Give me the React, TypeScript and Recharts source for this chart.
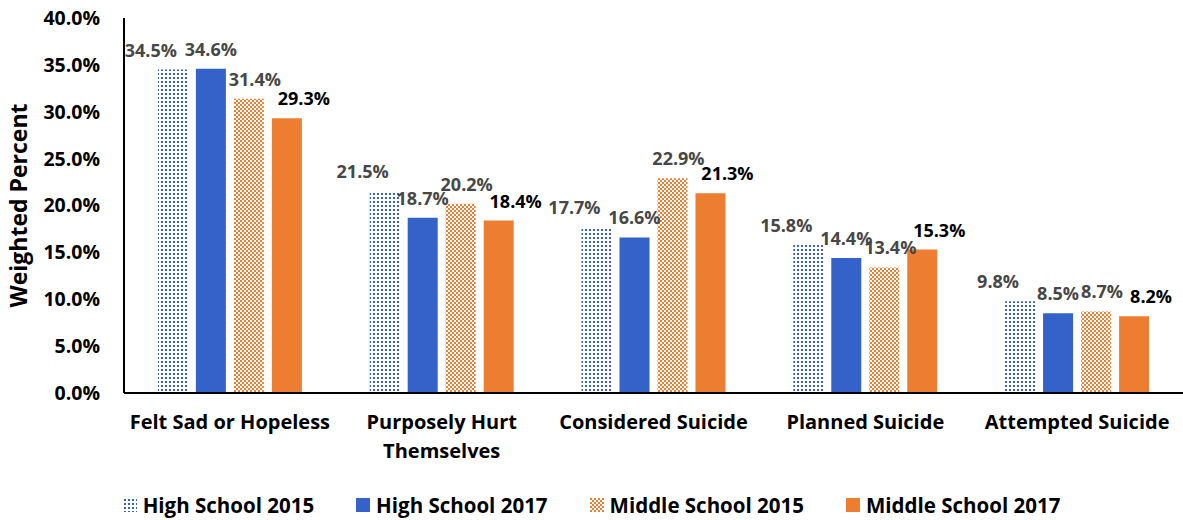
import React from "react";
import { BarChart, Bar, XAxis, YAxis, LabelList } from "recharts";

const categories = [
  "Felt Sad or Hopeless",
  "Purposely Hurt Themselves",
  "Considered Suicide",
  "Planned Suicide",
  "Attempted Suicide",
];
const highSchool2015 = [34.5, 21.5, 17.7, 15.8, 9.8];
const highSchool2017 = [34.6, 18.7, 16.6, 14.4, 8.5];
const middleSchool2015 = [31.4, 20.2, 22.9, 13.4, 8.7];
const middleSchool2017 = [29.3, 18.4, 21.3, 15.3, 8.2];
const yTicks = [0, 5, 10, 15, 20, 25, 30, 35, 40];

const BLUE = "#3462C8";
const ORANGE = "#ED7D31";
const FONT = "'Open Sans', Lato, sans-serif";

const data = categories.map((c, i) => ({
  category: c,
  hs2015: highSchool2015[i],
  hs2017: highSchool2017[i],
  ms2015: middleSchool2015[i],
  ms2017: middleSchool2017[i],
}));

const series = [
  { key: "hs2015", name: "High School 2015", fill: "url(#dotsBlue)", icon: "dots", labelColor: "#474747", dx: -22 },
  { key: "hs2017", name: "High School 2017", fill: BLUE, icon: "solidBlue", labelColor: "#474747", dx: 0 },
  { key: "ms2015", name: "Middle School 2015", fill: "url(#checkOrange)", icon: "check", labelColor: "#474747", dx: 6 },
  { key: "ms2017", name: "Middle School 2017", fill: ORANGE, icon: "solidOrange", labelColor: "#000000", dx: 17 },
];

function wrapLabel(text: string, maxChars: number): string[] {
  const words = text.split(" ");
  const lines: string[] = [];
  let cur = "";
  for (const w of words) {
    const next = cur ? cur + " " + w : w;
    if (next.length > maxChars && cur) {
      lines.push(cur);
      cur = w;
    } else {
      cur = next;
    }
  }
  if (cur) lines.push(cur);
  return lines;
}

const CategoryTick = (props: any) => {
  const { x, y, payload } = props;
  const lines = wrapLabel(String(payload.value), 20);
  return (
    <text x={x} y={y} textAnchor="middle" fontFamily={FONT} fontWeight={700} fontSize={20} fill="#000">
      {lines.map((l, i) => (
        <tspan key={i} x={x} dy={i === 0 ? 28 : 29}>
          {l}
        </tspan>
      ))}
    </text>
  );
};

const makeLabel = (color: string, dx: number) => (props: any) => {
  const { x, y, width, value } = props;
  return (
    <text
      x={Number(x) + Number(width) / 2 + dx}
      y={Number(y) - 13}
      textAnchor="middle"
      fontFamily={FONT}
      fontWeight={700}
      fontSize={18}
      fill={color}
    >
      {Number(value).toFixed(1) + "%"}
    </text>
  );
};

const PatternDefs = () => (
  <defs>
    <pattern id="dotsBlue" patternUnits="userSpaceOnUse" width="4" height="4">
      <rect x="0" y="0" width="4" height="4" fill="#ffffff" />
      <rect x="1" y="1" width="2" height="2" fill={BLUE} />
    </pattern>
    <pattern id="checkOrange" patternUnits="userSpaceOnUse" width="4" height="4">
      <rect x="0" y="0" width="4" height="4" fill="#ffffff" />
      <rect x="0" y="0" width="2" height="2" fill={ORANGE} />
      <rect x="2" y="2" width="2" height="2" fill={ORANGE} />
    </pattern>
  </defs>
);

const LegendIcon = ({ kind }: { kind: string }) => {
  const fill =
    kind === "dots" ? "url(#dotsBlueL)" : kind === "check" ? "url(#checkOrangeL)" : kind === "solidBlue" ? BLUE : ORANGE;
  return (
    <svg width={14} height={14} style={{ display: "block" }}>
      <defs>
        <pattern id="dotsBlueL" patternUnits="userSpaceOnUse" width="4" height="4">
          <rect x="0" y="0" width="4" height="4" fill="#ffffff" />
          <rect x="1" y="1" width="2" height="2" fill={BLUE} />
        </pattern>
        <pattern id="checkOrangeL" patternUnits="userSpaceOnUse" width="4" height="4">
          <rect x="0" y="0" width="4" height="4" fill="#ffffff" />
          <rect x="0" y="0" width="2" height="2" fill={ORANGE} />
          <rect x="2" y="2" width="2" height="2" fill={ORANGE} />
        </pattern>
      </defs>
      <rect x={0} y={0} width={14} height={14} fill={fill} />
    </svg>
  );
};

export default function App() {
  return (
    <div style={{ position: "absolute", left: 0, top: 0, width: 1183, height: 520, background: "#fff" }}>
      <BarChart
        width={1183}
        height={520}
        data={data}
        margin={{ top: 18, right: 0, bottom: 0, left: 0 }}
        barCategoryGap="16%"
        barGap={8}
      >
        <PatternDefs />
        <XAxis
          dataKey="category"
          height={127}
          axisLine={{ stroke: "#000", strokeWidth: 2 }}
          tickLine={false}
          tick={<CategoryTick />}
          interval={0}
        />
        <YAxis
          width={124}
          domain={[0, 40]}
          ticks={yTicks}
          interval={0}
          axisLine={{ stroke: "#000", strokeWidth: 2 }}
          tickLine={false}
          tickSize={6}
          tickMargin={18}
          tickFormatter={(v: number) => v.toFixed(1) + "%"}
          tick={{ fontFamily: FONT, fontWeight: 700, fontSize: 19.5, fill: "#000" }}
          label={{
            value: "Weighted Percent",
            angle: -90,
            position: "insideLeft",
            dx: 14,
            style: { fontFamily: FONT, fontWeight: 700, fontSize: 23, fill: "#000", textAnchor: "middle" },
          }}
        />
        {series.map((s) => (
          <Bar key={s.key} dataKey={s.key} name={s.name} fill={s.fill} isAnimationActive={false}>
            <LabelList dataKey={s.key} content={makeLabel(s.labelColor, s.dx)} />
          </Bar>
        ))}
      </BarChart>
      <div
        style={{
          position: "absolute",
          left: 0,
          top: 493,
          width: 1183,
          height: 24,
          display: "flex",
          justifyContent: "center",
          alignItems: "center",
          gap: 42,
          fontFamily: FONT,
          fontWeight: 700,
          fontSize: 20.5,
          color: "#000",
        }}
      >
        {series.map((s) => (
          <div key={s.key} style={{ display: "flex", alignItems: "center", gap: 6 }}>
            <LegendIcon kind={s.icon} />
            <span style={{ whiteSpace: "nowrap", lineHeight: "24px" }}>{s.name}</span>
          </div>
        ))}
      </div>
    </div>
  );
}
